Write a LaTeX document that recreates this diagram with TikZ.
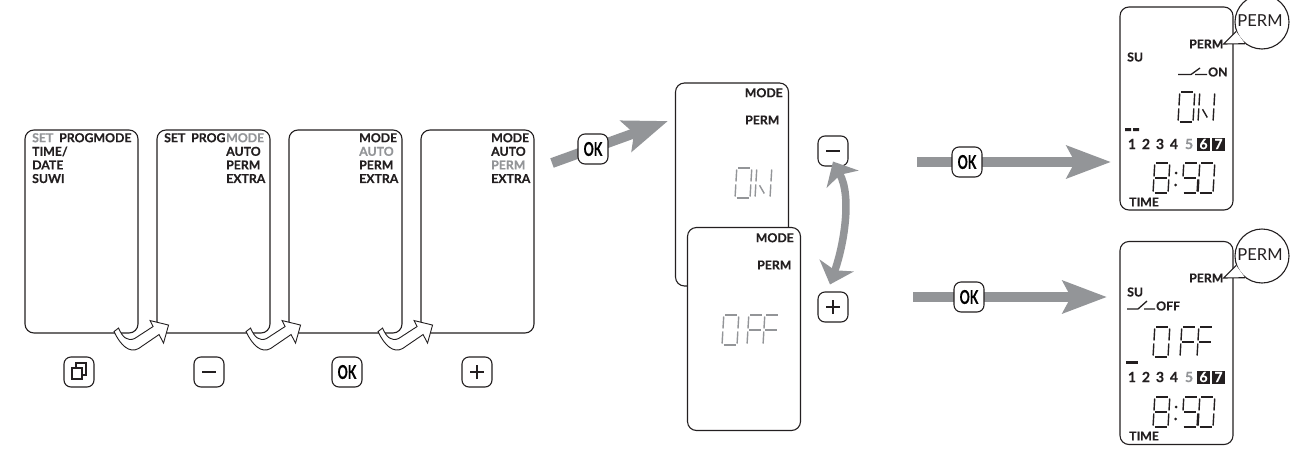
\documentclass[tikz,border=0pt]{standalone}
\usepackage{fontspec}
\setmainfont{Lato}
\newfontfamily\lcdfont{Lato}[BoldFeatures={FakeBold=0.35}]
\usetikzlibrary{arrows.meta,positioning}
\definecolor{lcdDark}{RGB}{35,31,32}
\definecolor{lcdGray}{RGB}{147,149,152}
\newcommand{\oktext}{\scalebox{.66}[1]{\lcdfont\bfseries OK}}
\newcommand{\off}[1]{\textcolor{lcdGray}{#1}}
% segments of one digit, 1 wide and 2 high
\def\sega{(.1,2)--(.9,2)}
\def\segb{(1,1.9)--(1,1.1)}
\def\segc{(1,.9)--(1,.1)}
\def\segd{(.1,0)--(.9,0)}
\def\sege{(0,.9)--(0,.1)}
\def\segf{(0,1.9)--(0,1.1)}
\def\segg{(.1,1)--(.9,1)}
\def\segn{(.25,.85)--(.6,.3)}
\newcommand{\lcddigit}[4]{%
  \begin{scope}[shift={(#1,#2)},x=15pt,y=15pt,xslant=.06]
    \foreach \s in {#4} \draw[#3,line width=1.4pt] \csname seg\s\endcsname;
  \end{scope}}
\newcommand{\lcdclock}[2]{%
  \lcddigit{#1}{#2}{lcdDark}{a,b,c,d,e,f,g}
  \lcddigit{#1+29}{#2}{lcdDark}{a,c,d,f,g}
  \lcddigit{#1+45}{#2}{lcdDark}{a,b,c,d,e,f}
  \fill[lcdDark] (#1+23,#2-20) circle (1.5pt) (#1+22.5,#2-8) circle (1.5pt);}
% hollow arrow leaving the lower right corner of a screen
\newcommand{\hookarrow}[1]{%
  \begin{scope}[shift={(#1.south east)}]
    \draw[hookarr] (-24.5,-2) -- (-20,-5.5) .. controls (-16,4) and (-11,8) .. (-4,5)
      -- (14.5,-7) -- (11.5,-13) -- (30,-8.5) -- (25,9.5) -- (20.5,1) -- (0,15)
      .. controls (-9,20) and (-18,12) .. cycle;
  \end{scope}}
\begin{document}
\begin{tikzpicture}[x=1pt,y=-1pt,
    screen/.style={draw=lcdDark,line width=1.1pt,fill=white,rounded corners=9pt,
      minimum width=113pt,minimum height=203pt,inner sep=0pt},
    lcd/.style={font=\fontsize{12.3pt}{13.6pt}\lcdfont\bfseries,text=lcdDark,inner sep=0pt,align=left},
    btn/.style={draw=lcdDark,line width=1.1pt,fill=white,rounded corners=7pt,
      minimum width=30pt,minimum height=30pt,inner sep=0pt,font=\fontsize{19pt}{19pt}\selectfont},
    glyph/.style={draw=lcdDark,line width=2.8pt},
    bigarr/.style={draw=lcdGray,line width=10pt,
      -{Stealth[length=44pt,width=32pt,inset=8pt]}},
    swaparr/.style={draw=lcdGray,line width=7.5pt,
      {Stealth[length=20pt,width=36pt,inset=5pt]}-{Stealth[length=20pt,width=36pt,inset=5pt]}},
    hookarr/.style={draw=lcdDark,line width=.9pt,fill=white,line join=miter},
    bubble/.style={circle,draw=lcdDark,line width=1.1pt,fill=white,minimum size=54pt,inner sep=0pt},
    bubbletext/.style={font=\fontsize{16.5pt}{16.5pt}\selectfont,text=lcdDark,inner sep=0pt},
    day/.style={lcd,font=\fontsize{14pt}{14pt}\lcdfont\bfseries},
    daybox/.style={day,fill=lcdDark,text=white,minimum width=13pt,minimum height=13pt}
  ]
  \useasboundingbox (0,0) rectangle (1308,450);
  % menu screens
  \node[screen] (s1) at (81.5,231.5) {};
  \node[screen] (s2) at (213.5,231.5) {};
  \node[screen] (s3) at (345.5,231.5) {};
  \node[screen] (s4) at (477.5,231.5) {};
  \node[lcd,anchor=north west] (m1) at (32,133) {\off{SET}\\TIME/\\DATE\\SUWI};
  \node[lcd,anchor=north west] (p1) at (59,133) {PROGMODE};
  \node[lcd,anchor=north west] (t2) at (164,133) {SET};
  \node[lcd,anchor=north west] (p2) at (191,133) {PROG};
  \node[lcd,anchor=north west] (m2) at (226,133) {\off{MODE}\\AUTO\\PERM\\EXTRA};
  \node[lcd,anchor=north west] (m3) at (359,133) {MODE\\\off{AUTO}\\PERM\\EXTRA};
  \node[lcd,anchor=north west] (m4) at (491,133) {MODE\\AUTO\\\off{PERM}\\EXTRA};
  % hollow arrows between the screens
  \hookarrow{s1}
  \hookarrow{s2}
  \hookarrow{s3}
  % buttons below
  \node[btn] (b1) at (79,372) {};
  \node[btn] (b2) at (209,372) {};
  \node[btn] (b3) at (347,372) {\oktext};
  \node[btn] (b4) at (477,372) {};
  \draw[glyph,line width=2pt,fill=white] ([shift={(-3,-9)}]b1.center) rectangle ([shift={(7,3)}]b1.center);
  \draw[glyph,line width=2pt,fill=white] ([shift={(-7,-4)}]b1.center) rectangle ([shift={(3,7)}]b1.center);
  \draw[glyph] ([xshift=-7pt]b2.center) -- ([xshift=7pt]b2.center);
  \draw[glyph] ([xshift=-7pt]b4.center) -- ([xshift=7pt]b4.center);
  \draw[glyph] ([yshift=-7pt]b4.center) -- ([yshift=7pt]b4.center);
  % choice of ON or OFF
  \coordinate (a1) at (552,163);
  \coordinate (a2) at (668,121);
  \draw[bigarr] (a1) -- (a2);
  \node[btn] (ok1) at (593,149) {\oktext};
  \node[screen] (on) at (732,184.5) {};
  \node[lcd,anchor=north east] (onmode) at (783,88) {MODE};
  \node[lcd,anchor=west] (onperm) at (745,120) {PERM};
  \lcddigit{735}{198}{lcdGray}{a,b,c,d,e,f}
  \lcddigit{755}{198}{lcdGray}{b,c,e,f,n}
  \node[screen] (of) at (744,329) {};
  \node[lcd,anchor=north east] (ofmode) at (794,233) {MODE};
  \node[lcd,anchor=west] (ofperm) at (757,265) {PERM};
  \lcddigit{722}{345}{lcdGray}{a,b,c,d,e,f}
  \lcddigit{747}{345}{lcdGray}{a,e,f,g}
  \lcddigit{763}{345}{lcdGray}{a,e,f,g}
  \node[btn] (minus) at (833,151) {};
  \node[btn] (plus) at (833,307) {};
  \draw[glyph] ([xshift=-7pt]minus.center) -- ([xshift=7pt]minus.center);
  \draw[glyph] ([xshift=-7pt]plus.center) -- ([xshift=7pt]plus.center);
  \draw[glyph] ([yshift=-7pt]plus.center) -- ([yshift=7pt]plus.center);
  \draw[swaparr] ([yshift=5pt]minus.south) .. controls +(19,35) and +(14,-40) .. ([shift={(-3,-7)}]plus.north);
  % arrows to the final screens
  \coordinate (c1) at (917,162);
  \coordinate (c2) at (1111,162);
  \coordinate (c3) at (913,297);
  \coordinate (c4) at (1107,297);
  \draw[bigarr] (c1) -- (c2);
  \draw[bigarr] (c3) -- (c4);
  \node[btn] (ok2) at (967,162) {\oktext};
  \node[btn] (ok3) at (969,297) {\oktext};
  % final screen ON
  \node[screen] (r1) at (1176.5,108.5) {};
  \node[lcd,anchor=west] (r1perm) at (1189,44) {PERM};
  \node[lcd,anchor=west] (r1su) at (1127,57) {SU};
  \node[lcd,anchor=west] (r1on) at (1208,72) {ON};
  \draw[lcdDark,line width=1.3pt] (1178,74.5) -- (1191,74.5) -- (1200,68) (1195,74.5) -- (1207,74.5);
  \lcddigit{1178}{122}{lcdDark}{a,b,c,d,e,f}
  \lcddigit{1198}{122}{lcdDark}{b,c,e,f,n}
  \fill[lcdDark] (1125,128) rectangle (1131,131) (1133,128) rectangle (1139,131);
  \node[day] (r1d1) at (1132,144) {1};
  \node[day] (r1d2) at (1146,144) {2};
  \node[day] (r1d3) at (1160,144) {3};
  \node[day] (r1d4) at (1174,144) {4};
  \node[day,text=lcdGray] (r1d5) at (1189,144) {5};
  \node[daybox] (r1d6) at (1203.5,144) {6};
  \node[daybox] (r1d7) at (1218.5,144) {7};
  \lcdclock{1153}{193}
  \node[lcd,anchor=west] (r1time) at (1129,202) {TIME};
  \node[bubble] (b5) at (1262,22) {};
  \node[bubbletext] (b5t) at (1260,21) {PERM};
  \fill[white] (b5.200) -- (r1perm.east) -- (b5.232) -- cycle;
  \draw[lcdDark,line width=1.1pt] (b5.200) -- (r1perm.east) -- (b5.232);
  % final screen OFF
  \node[screen] (r2) at (1176.5,343) {};
  \node[lcd,anchor=west] (r2perm) at (1189,278) {PERM};
  \node[lcd,anchor=west] (r2su) at (1127,292) {SU};
  \node[lcd,anchor=west] (r2off) at (1156,306) {OFF};
  \draw[lcdDark,line width=1.3pt] (1127,309) -- (1138,309) -- (1147,301) (1144,309) -- (1155,309);
  \lcddigit{1153}{357}{lcdDark}{a,b,c,d,e,f}
  \lcddigit{1180}{357}{lcdDark}{a,e,f,g}
  \lcddigit{1197}{357}{lcdDark}{a,e,f,g}
  \fill[lcdDark] (1126,361) rectangle (1138,364);
  \node[day] (r2d1) at (1132,377) {1};
  \node[day] (r2d2) at (1146,377) {2};
  \node[day] (r2d3) at (1160,377) {3};
  \node[day] (r2d4) at (1174,377) {4};
  \node[day,text=lcdGray] (r2d5) at (1189,377) {5};
  \node[daybox] (r2d6) at (1203.5,377) {6};
  \node[daybox] (r2d7) at (1218.5,377) {7};
  \lcdclock{1153}{427}
  \node[lcd,anchor=west] (r2time) at (1129,436) {TIME};
  \node[bubble] (b6) at (1262,256) {};
  \node[bubbletext] (b6t) at (1260,255) {PERM};
  \fill[white] (b6.200) -- (r2perm.east) -- (b6.232) -- cycle;
  \draw[lcdDark,line width=1.1pt] (b6.200) -- (r2perm.east) -- (b6.232);
\end{tikzpicture}
\end{document}
